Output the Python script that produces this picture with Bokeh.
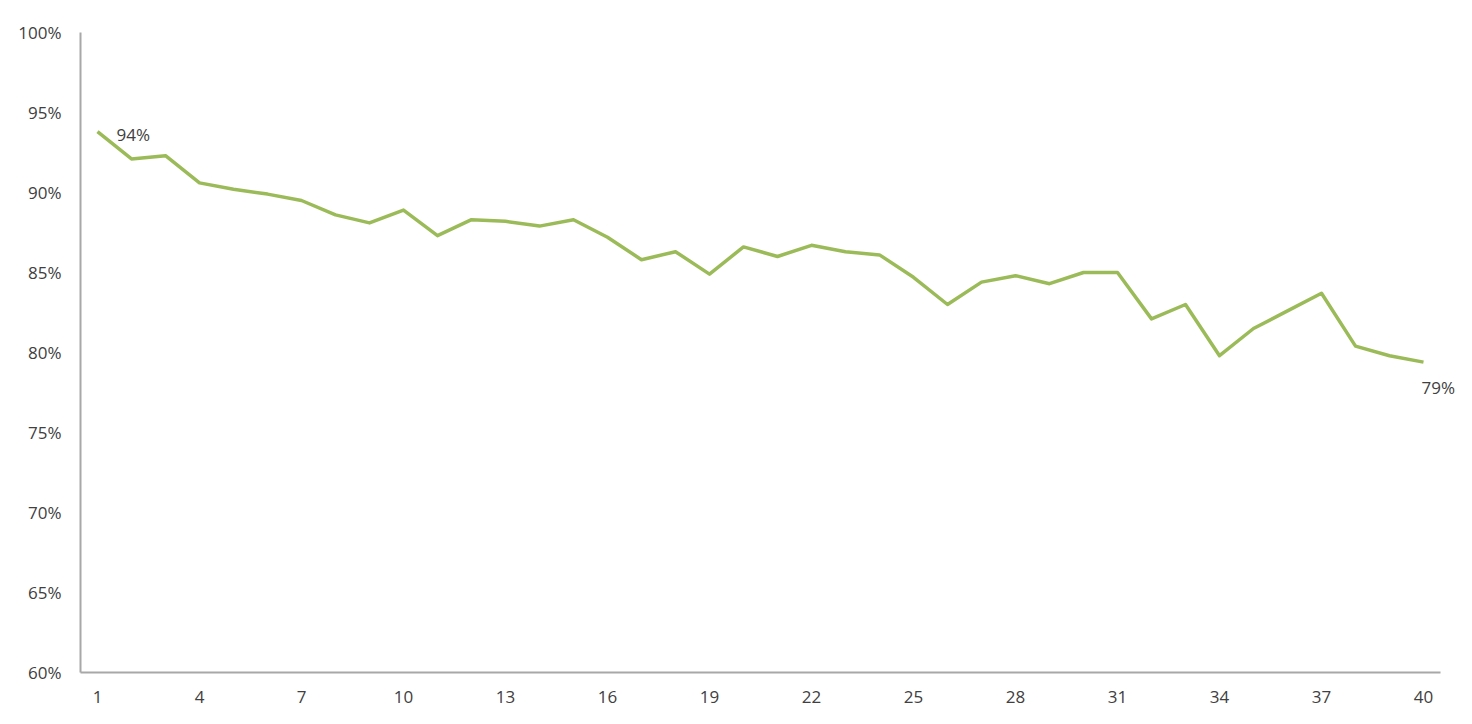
from bokeh.plotting import figure
from bokeh.models import FixedTicker, PrintfTickFormatter, Range1d, Label
from bokeh.embed import file_html
from bokeh.resources import INLINE

# ---- data ----
periods = list(range(1, 41))
rates = [93.8, 92.1, 92.3, 90.6, 90.2, 89.9, 89.5, 88.6, 88.1, 88.9,
         87.3, 88.3, 88.2, 87.9, 88.3, 87.2, 85.8, 86.3, 84.9, 86.6,
         86.0, 86.7, 86.3, 86.1, 84.7, 83.0, 84.4, 84.8, 84.3, 85.0,
         85.0, 82.1, 83.0, 79.8, 81.5, 82.6, 83.7, 80.4, 79.8, 79.4]
x_ticks = [1, 4, 7, 10, 13, 16, 19, 22, 25, 28, 31, 34, 37, 40]
y_ticks = [60, 65, 70, 75, 80, 85, 90, 95, 100]
label_points = [1, 40]

FONT = "Open Sans"
TXT = "#404040"
AXIS = "#A8A8A8"
GREEN = "#9BBB59"

FW = 1380                      # frame width (extra room on right for the end label)
x_end = 0.5 + FW / 34.0        # keep 34 px per period

p = figure(width=1464, height=716, output_backend="svg", toolbar_location=None,
           x_range=Range1d(0.5, x_end), y_range=Range1d(60, 100),
           frame_width=FW, frame_height=640,
           min_border_left=80, min_border_top=32, min_border_right=4, min_border_bottom=44)

p.line(periods, rates, line_color=GREEN, line_width=3.5, line_join="round")

offsets = {1: (19, -3), 40: (-2, -25)}
for i in label_points:
    v = rates[i - 1]
    xo, yo = offsets[i]
    p.add_layout(Label(x=periods[i - 1], y=v, text=f"{round(v)}%",
                       x_offset=xo, y_offset=yo,
                       text_font=FONT, text_font_size="17px", text_color=TXT,
                       text_align="left", text_baseline="middle"))

p.grid.visible = False
p.outline_line_color = None

for ax in (p.xaxis[0], p.yaxis[0]):
    ax.axis_line_color = AXIS
    ax.axis_line_width = 2
    ax.major_tick_line_color = None
    ax.minor_tick_line_color = None
    ax.major_tick_in = 0
    ax.major_tick_out = 0
    ax.major_label_text_font = FONT
    ax.major_label_text_font_size = "17px"
    ax.major_label_text_color = TXT

p.xaxis.ticker = FixedTicker(ticks=x_ticks)
p.xaxis.bounds = (0.5, 40.5)
p.xaxis.major_label_standoff = 18
p.yaxis.ticker = FixedTicker(ticks=y_ticks)
p.yaxis.formatter = PrintfTickFormatter(format="%d%%")
p.yaxis.major_label_standoff = 19

open("out.html", "w").write(file_html(p, INLINE))
